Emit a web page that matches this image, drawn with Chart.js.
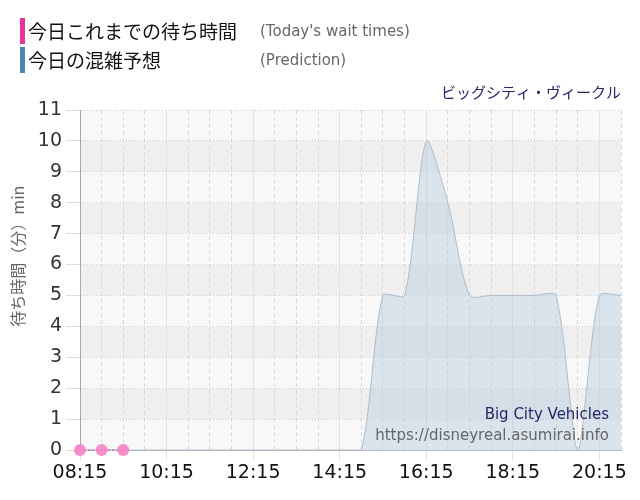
<!DOCTYPE html>
<html>
<head>
<meta charset="utf-8">
<script src="https://cdn.jsdelivr.net/npm/chart.js@4"></script>
<style>
  body { margin: 0; background: #fff; }
  #wrap { position: relative; width: 640px; height: 500px; }
  #legend { position: absolute; left: 20px; top: 18px; font-family: "Noto Sans CJK JP", sans-serif; }
  .row { position: relative; height: 26px; margin-bottom: 3px; }
  .bar { position: absolute; left: 0; top: 0; width: 5px; height: 26px; }
  .jp { position: absolute; left: 8px; top: 0; font-size: 19px; line-height: 26px; color: #111; white-space: nowrap; }
  .en { position: absolute; left: 240px; top: 0; font-size: 15px; line-height: 26px; color: #666; font-family: "DejaVu Sans", sans-serif; white-space: nowrap; }
  canvas { position: absolute; left: 0; top: 0; }
</style>
</head>
<body>
<div id="wrap">
  <canvas id="waitChart" width="640" height="500"></canvas>
  <div id="legend">
    <div class="row"><span class="bar" style="background:#e8349a"></span><span class="jp">今日これまでの待ち時間</span><span class="en">(Today's wait times)</span></div>
    <div class="row"><span class="bar" style="background:#4a86b8"></span><span class="jp">今日の混雑予想</span><span class="en">(Prediction)</span></div>
  </div>
</div>
<script>
const timeLabels = [
  "08:15", "08:45", "09:15", "09:45", "10:15", "10:45", "11:15", "11:45",
  "12:15", "12:45", "13:15", "13:45", "14:15", "14:45", "15:15", "15:45",
  "16:15", "16:45", "17:15", "17:45", "18:15", "18:45", "19:15", "19:45",
  "20:15", "20:45",
];
const todayWait = [0, 0, 0];
const prediction = [
  0, 0, 0, 0, 0, 0, 0, 0,
  0, 0, 0, 0, 0, 0, 5, 5,
  10, 8, 5, 5, 5, 5, 5, 0,
  5, 5,
];
const yTicks = [0, 1, 2, 3, 4, 5, 6, 7, 8, 9, 10, 11];
const yTitle = "待ち時間（分）min";

const tickFont = { family: "'DejaVu Sans', sans-serif", size: 19 };

// alternating gray bands behind the grid
const bandPlugin = {
  id: "bands",
  beforeDraw(chart) {
    const { ctx, chartArea, scales } = chart;
    ctx.save();
    for (let i = 0; i < yTicks.length - 1; i++) {
      const top = scales.y.getPixelForValue(yTicks[i + 1]);
      const bottom = scales.y.getPixelForValue(yTicks[i]);
      ctx.fillStyle = i % 2 === 1 ? "#efefef" : "#f8f8f8";
      ctx.fillRect(chartArea.left, top, chartArea.right - chartArea.left, bottom - top);
    }
    ctx.restore();
  },
};

// watermark + y title (the original sits a bit above the middle)
const textPlugin = {
  id: "texts",
  afterDatasetsDraw(chart) {
    const { ctx, chartArea } = chart;
    ctx.save();
    ctx.textAlign = "right";
    ctx.textBaseline = "middle";
    ctx.font = "15px 'DejaVu Sans', sans-serif";
    ctx.fillStyle = "#262668";
    ctx.fillText("Big City Vehicles", chartArea.right - 12, chartArea.bottom - 35);
    ctx.fillStyle = "#666";
    ctx.fillText("https://disneyreal.asumirai.info", chartArea.right - 12, chartArea.bottom - 14);

    ctx.translate(18, chartArea.top + (chartArea.bottom - chartArea.top) * 0.43);
    ctx.rotate(-Math.PI / 2);
    ctx.textAlign = "center";
    ctx.font = "16px 'Noto Sans CJK JP', sans-serif";
    ctx.fillText(yTitle, 0, 0);
    ctx.restore();
  },
};

new Chart(document.getElementById("waitChart"), {
  type: "line",
  data: {
    labels: timeLabels,
    datasets: [
      {
        label: "今日これまでの待ち時間",
        data: todayWait,
        borderColor: "#e0469e",
        borderWidth: 1,
        borderDash: [2, 2],
        pointRadius: 6,
        pointBackgroundColor: "rgba(245,130,195,0.9)",
        pointBorderWidth: 0,
        fill: false,
        tension: 0,
        clip: false,
      },
      {
        label: "今日の混雑予想",
        data: prediction,
        borderColor: "#aebccb",
        borderWidth: 1,
        pointRadius: 0,
        backgroundColor: "rgba(180,203,224,0.45)",
        fill: "origin",
        tension: 0.25,
      },
    ],
  },
  options: {
    responsive: false,
    animation: false,
    layout: { padding: { top: 83, right: 19, left: 0, bottom: 0 } },
    plugins: {
      legend: { display: false },
      tooltip: { enabled: false },
      title: {
        display: true,
        text: "ビッグシティ・ヴィークル",
        align: "end",
        color: "#262668",
        font: { family: "'Noto Sans CJK JP', sans-serif", size: 15, weight: "normal" },
        padding: { top: 0, bottom: 9 },
      },
    },
    scales: {
      x: {
        afterFit: (scale) => { scale.height = 50; },
        ticks: {
          autoSkip: false,
          maxRotation: 0,
          padding: 2,
          color: "#111",
          font: tickFont,
          callback: (val, i) => (i % 4 === 0 ? timeLabels[i] : ""),
        },
        grid: {
          color: (c) => (c.index % 4 === 0 ? "#e2e2e2" : "#d9d9d9"),
          tickColor: (c) => (c.index % 4 === 0 ? "#e2e2e2" : "rgba(0,0,0,0)"),
          tickLength: 10,
          tickBorderDash: [],
        },
        border: {
          color: "#b8b8c0",
          dash: (c) => (c.index % 4 === 0 ? [] : [4, 3]),
        },
      },
      y: {
        min: 0,
        max: 11,
        afterFit: (scale) => { scale.width = 80; },
        ticks: { stepSize: 1, color: "#333", font: tickFont, padding: 4 },
        grid: {
          color: "#cfcfcf",
          tickColor: "#dddddd",
          tickLength: 14,
          tickBorderDash: [],
        },
        border: { color: "#a8a8b0", dash: [1, 2] },
      },
    },
  },
  plugins: [bandPlugin, textPlugin],
});
</script>
</body>
</html>
